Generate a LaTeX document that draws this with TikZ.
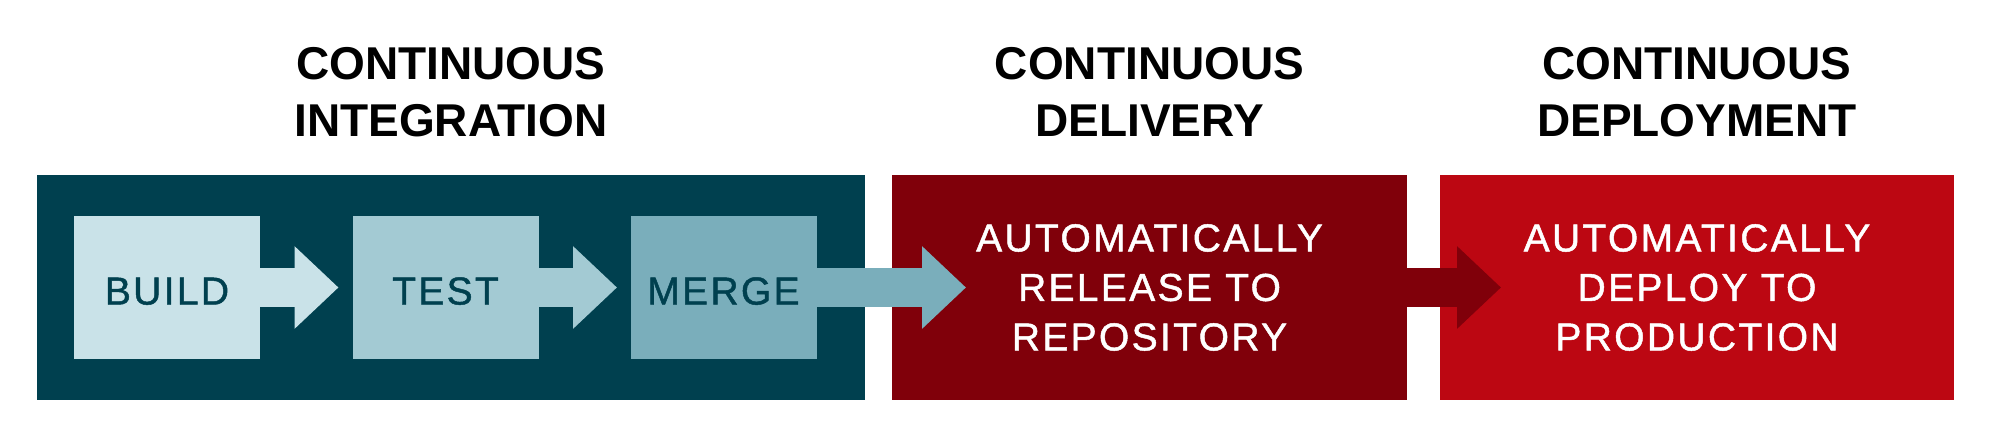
\documentclass[tikz,border=0pt]{standalone}
\usepackage{fontspec}
\setmainfont{Liberation Sans}
\newfontfamily\boxfont[LetterSpace=6,FakeBold=1.2]{Liberation Sans}
\usetikzlibrary{arrows.meta}
\definecolor{ciblue}{HTML}{00404F}
\definecolor{buildc}{HTML}{C9E2E8}
\definecolor{testc}{HTML}{A3CAD3}
\definecolor{mergec}{HTML}{7AAEBB}
\definecolor{cdred}{HTML}{80000A}
\definecolor{cdpred}{HTML}{BC0712}
\begin{document}
\begin{tikzpicture}[x=1pt,y=-1pt,
  stage/.style={rectangle, inner sep=0pt, outer sep=0pt, minimum height=225pt, align=center,
    text=white, font=\boxfont\fontsize{39}{49.5}\selectfont},
  stepbox/.style={rectangle, inner sep=0pt, outer sep=0pt, minimum width=186pt, minimum height=143pt,
    text height=34pt, text depth=0pt,
    text=ciblue, font=\boxfont\fontsize{39}{49.5}\selectfont},
  heading/.style={anchor=north, inner sep=0pt, align=center, text=black,
    font=\fontsize{46}{57}\selectfont\bfseries},
  flow/.style={line width=38.7pt, -{Triangle[width=80pt,length=44pt]}}]
\useasboundingbox (0,0) rectangle (1990,440);
\fill[white] (0,0) rectangle (1990,440);
% stage boxes
\node[stage, fill=ciblue, minimum width=828pt] (ci) at (451,287.5) {};
\node[stage, fill=cdred, minimum width=515pt] (cd) at (1149.5,287.5) {AUTOMATICALLY\\RELEASE TO\\REPOSITORY};
\node[stage, fill=cdpred, minimum width=514pt] (cdp) at (1697,287.5) {AUTOMATICALLY\\DEPLOY TO\\PRODUCTION};
% headings
\node[heading] (hci) at ([yshift=127.5pt]ci.north) {CONTINUOUS\\INTEGRATION};
\node[heading] (hcd) at ([yshift=127.5pt]cd.north) {CONTINUOUS\\DELIVERY};
\node[heading] (hcdp) at ([yshift=127.5pt]cdp.north) {CONTINUOUS\\DEPLOYMENT};
% steps
\node[stepbox, fill=buildc] (build) at (167,287.5) {BUILD};
\node[stepbox, fill=testc] (test) at (445.5,287.5) {TEST};
\node[stepbox, fill=mergec] (merge) at (723.5,287.5) {MERGE};
% arrows
\draw[flow, draw=buildc, fill=buildc, shorten >=14pt] (build.east) -- (test.west);
\draw[flow, draw=testc, fill=testc, shorten >=13.5pt] (test.east) -- (merge.west);
\draw[flow, draw=mergec, fill=mergec, shorten >=-74pt] (merge.east) -- (cd.west);
\draw[flow, draw=cdred, fill=cdred, shorten >=-61pt] (cd.east) -- (cdp.west);
\end{tikzpicture}
\end{document}
